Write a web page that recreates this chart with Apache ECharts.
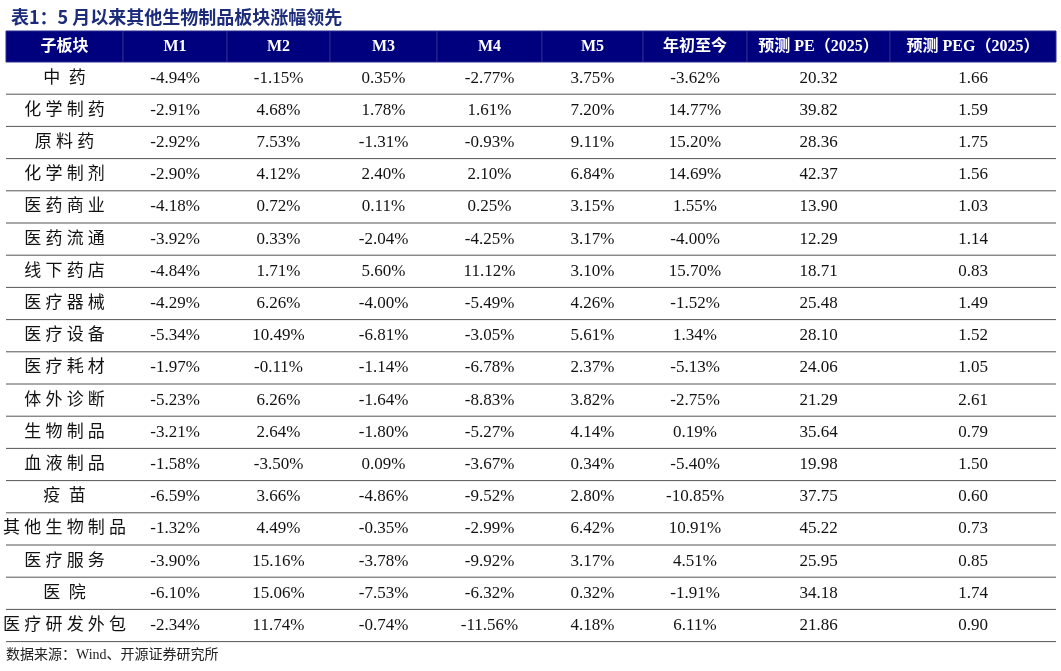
<!DOCTYPE html>
<html>
<head>
<meta charset="utf-8">
<script src="https://cdn.jsdelivr.net/npm/echarts@6/dist/echarts.min.js"></script>
<style>
  html, body { margin: 0; padding: 0; background: #fff; }
  #chart { width: 1061px; height: 671px; }
</style>
</head>
<body>
<div id="chart"></div>
<script>
const headers = ['子板块', 'M1', 'M2', 'M3', 'M4', 'M5', '年初至今', '预测 PE（2025）', '预测 PEG（2025）'];
const sectors = ['中药', '化学制药', '原料药', '化学制剂', '医药商业', '医药流通', '线下药店', '医疗器械', '医疗设备',
    '医疗耗材', '体外诊断', '生物制品', '血液制品', '疫苗', '其他生物制品', '医疗服务', '医院', '医疗研发外包'];
const m1 = [-4.94, -2.91, -2.92, -2.90, -4.18, -3.92, -4.84, -4.29, -5.34, -1.97, -5.23, -3.21, -1.58, -6.59, -1.32, -3.90, -6.10, -2.34];
const m2 = [-1.15, 4.68, 7.53, 4.12, 0.72, 0.33, 1.71, 6.26, 10.49, -0.11, 6.26, 2.64, -3.50, 3.66, 4.49, 15.16, 15.06, 11.74];
const m3 = [0.35, 1.78, -1.31, 2.40, 0.11, -2.04, 5.60, -4.00, -6.81, -1.14, -1.64, -1.80, 0.09, -4.86, -0.35, -3.78, -7.53, -0.74];
const m4 = [-2.77, 1.61, -0.93, 2.10, 0.25, -4.25, 11.12, -5.49, -3.05, -6.78, -8.83, -5.27, -3.67, -9.52, -2.99, -9.92, -6.32, -11.56];
const m5 = [3.75, 7.20, 9.11, 6.84, 3.15, 3.17, 3.10, 4.26, 5.61, 2.37, 3.82, 4.14, 0.34, 2.80, 6.42, 3.17, 0.32, 4.18];
const ytd = [-3.62, 14.77, 15.20, 14.69, 1.55, -4.00, 15.70, -1.52, 1.34, -5.13, -2.75, 0.19, -5.40, -10.85, 10.91, 4.51, -1.91, 6.11];
const pe = [20.32, 39.82, 28.36, 42.37, 13.90, 12.29, 18.71, 25.48, 28.10, 24.06, 21.29, 35.64, 19.98, 37.75, 45.22, 25.95, 34.18, 21.86];
const peg = [1.66, 1.59, 1.75, 1.56, 1.03, 1.14, 0.83, 1.49, 1.52, 1.05, 2.61, 0.79, 1.50, 0.60, 0.73, 0.85, 1.74, 0.90];

// layout (pixels)
const colEdges = [6, 123, 227, 330, 437, 542, 643, 747, 890, 1056];
const headTop = 31, headBottom = 62, rowH = 32.2;

const pct = v => v.toFixed(2) + '%';
const cols = [sectors, m1.map(pct), m2.map(pct), m3.map(pct), m4.map(pct), m5.map(pct), ytd.map(pct),
    pe.map(v => v.toFixed(2)), peg.map(v => v.toFixed(2))];

const cells = [];
headers.forEach((h, c) => cells.push([c, -1, h]));
cols.forEach((arr, c) => arr.forEach((t, r) => cells.push([c, r, t])));

const chart = echarts.init(document.getElementById('chart'));

chart.setOption({
    animation: false,
    title: {
        text: '表1：5 月以来其他生物制品板块涨幅领先',
        left: 6, top: 3,
        textStyle: { fontSize: 18, fontWeight: 'bold', color: '#1c2c7a', fontFamily: 'Noto Sans CJK SC' }
    },
    graphic: [{
        type: 'text', left: 6, top: 648,
        style: { text: '数据来源：Wind、开源证券研究所', fontSize: 14, fill: '#222', fontFamily: '"Liberation Serif", "Noto Sans CJK SC"' }
    }],
    grid: { left: 0, right: 0, top: 0, bottom: 0 },
    xAxis: { type: 'value', min: 0, max: 1061, show: false },
    yAxis: { type: 'value', min: 0, max: 671, inverse: true, show: false },
    series: [{
        type: 'custom',
        data: cells,
        renderItem: function (params, api) {
            const c = api.value(0), r = api.value(1);
            const text = cells[params.dataIndex][2];
            const top = r < 0 ? headTop : headBottom + r * rowH;
            const bottom = r < 0 ? headBottom : headBottom + (r + 1) * rowH;
            const p0 = api.coord([colEdges[c], top]);
            const p1 = api.coord([colEdges[c + 1], bottom]);
            const head = r < 0;
            const children = [];
            if (head) {
                children.push({
                    type: 'rect',
                    shape: { x: p0[0], y: p0[1], width: p1[0] - p0[0], height: p1[1] - p0[1] },
                    style: { fill: '#00007f', stroke: '#2a2a8f', lineWidth: 1 }
                });
            } else {
                children.push({
                    type: 'line',
                    shape: { x1: p0[0], y1: p1[1], x2: p1[0], y2: p1[1] },
                    style: { stroke: '#555', lineWidth: 1 }
                });
            }
            const cjkRow = c === 0 && !head;
            children.push({
                type: 'text',
                x: (p0[0] + p1[0]) / 2, y: (p0[1] + p1[1]) / 2,
                style: {
                    text: cjkRow ? text.split('').join(text.length <= 2 ? '  ' : ' ') : text,
                    align: 'center', verticalAlign: 'middle',
                    fill: head ? '#fff' : '#111',
                    fontSize: head ? 16 : 17,
                    fontWeight: head ? 'bold' : 'normal',
                    fontFamily: '"Liberation Serif", "Noto Sans CJK SC"'
                }
            });
            return { type: 'group', children: children };
        }
    }]
});
</script>
</body>
</html>
